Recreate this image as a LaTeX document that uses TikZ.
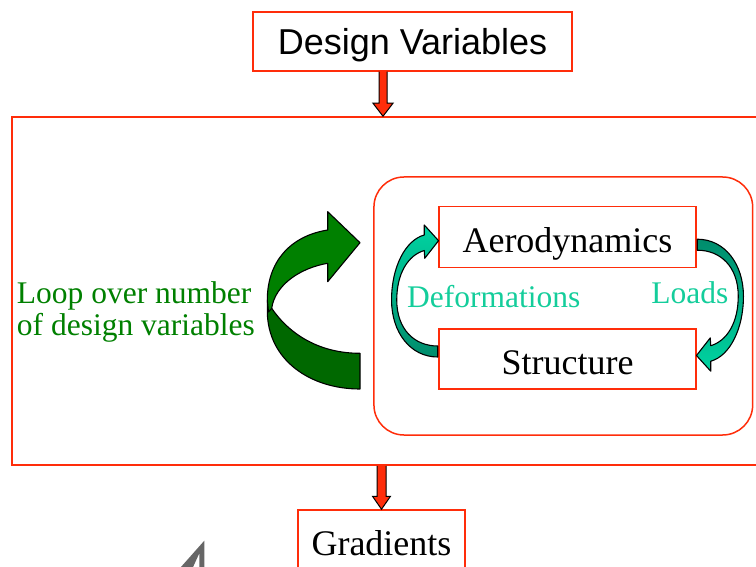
\documentclass[tikz,border=0pt]{standalone}
\usepackage{fontspec}
\setmainfont{Liberation Serif}
\newfontfamily\arialfont{Liberation Sans}
\usetikzlibrary{calc}

\definecolor{boxred}{RGB}{255,45,10}
\definecolor{loopgreen}{RGB}{0,128,0}
\definecolor{loopdark}{RGB}{0,104,0}
\definecolor{tealtext}{RGB}{20,205,155}
\definecolor{teallight}{RGB}{0,212,162}
\definecolor{tealdark}{RGB}{0,140,108}
\definecolor{markgray}{RGB}{102,102,102}

% vertical block arrow: fill, then outline without the top edge
\newcommand\blockdown[4]{% start, end, shaft half width, head half width
  \fill[boxred] ($(#1)+(-#3,0)$) -- ($(#2)+(-#3,-13)$) -- ($(#2)+(-#4,-13)$) -- (#2)
     -- ($(#2)+(#4,-13)$) -- ($(#2)+(#3,-13)$) -- ($(#1)+(#3,0)$) -- cycle;
  \draw[black, line width=1pt, line join=miter] ($(#1)+(-#3,0)$) -- ($(#2)+(-#3,-13)$)
     -- ($(#2)+(-#4,-13)$) -- (#2) -- ($(#2)+(#4,-13)$) -- ($(#2)+(#3,-13)$) -- ($(#1)+(#3,0)$);
}

\begin{document}
\begin{tikzpicture}[x=1pt,y=-1pt,
  redbox/.style={draw=boxred, line width=1.5pt, rectangle, inner sep=0pt},
  bigfont/.style={font=\fontsize{36}{40}\selectfont},
  midfont/.style={font=\fontsize{31.5}{31.7}\selectfont},
  outline/.style={draw=black, line width=1.1pt, line join=round}]
\useasboundingbox (0,0) rectangle (756,567);
\clip (0,0) rectangle (756,567);

% boxes
\node[redbox, minimum width=319pt, minimum height=59pt,
      font=\arialfont\fontsize{36}{40}\selectfont, text height=27pt, text depth=0pt]
      (dv) at (412.5,41.5) {Design Variables};
\node[redbox, minimum width=768pt, minimum height=348pt] (loop) at (396,291) {};
\node[draw=boxred, line width=1.5pt, rounded corners=30pt, inner sep=0pt,
      minimum width=378.7pt, minimum height=258pt] (cpl) at (563.3,306) {};
\node[redbox, minimum width=257pt, minimum height=61pt, bigfont,
      text height=31.6pt, text depth=0pt] (aero) at (567.5,237.2) {Aerodynamics};
\node[redbox, minimum width=257pt, minimum height=60pt, bigfont,
      text height=30pt, text depth=0pt] (str) at (567.5,359) {Structure};
\node[redbox, minimum width=167pt, minimum height=90pt, bigfont,
      text height=12pt, text depth=12pt] (grad) at (381.5,555) {Gradients};

% labels (base anchor of the two-line node is its last line)
\node[midfont, text=loopgreen, align=left, anchor=base west, inner sep=0pt]
      (looptext) at (16.7,335) {Loop over number\\of design variables};
\node[midfont, text=tealtext, anchor=base, inner sep=0pt] (deftext) at (493.7,308) {Deformations};
\node[midfont, text=tealtext, anchor=base, inner sep=0pt] (loadtext) at (689.8,303) {Loads};

% block arrows into and out of the loop
\coordinate (a1) at ([xshift=-29.5pt]dv.south);
\coordinate (a2) at (a1 |- loop.north);
\blockdown{a1}{a2}{4}{10}
\coordinate (b1) at (grad.north |- loop.south);
\coordinate (b2) at (grad.north);
\blockdown{b1}{b2}{4.5}{9}

% curved arrow: Structure -> Aerodynamics
\begin{scope}[shift={(aero.west)}]
\shadedraw[outline, top color=teallight, bottom color=tealdark]
  (-14,-2.2) .. controls (-33,3) and (-46.7,30) .. (-46.7,62.8)
  .. controls (-46.7,95) and (-28,119.8) .. (-0.5,119.8) -- (-0.5,108.8)
  .. controls (-24,108.8) and (-41.5,92) .. (-41.5,62.8)
  .. controls (-41.5,36) and (-30,18) .. (-14,13.3)
  -- (-13.5,21.1) -- (0.3,3.5) -- (-14,-12.2) -- cycle;
\end{scope}

% curved arrow: Aerodynamics -> Structure
\begin{scope}[shift={(str.east)}, xscale=-1, yscale=-1]
\shadedraw[outline, top color=tealdark, bottom color=teallight]
  (-14,-2.2) .. controls (-33,3) and (-46.7,30) .. (-46.7,62.8)
  .. controls (-46.7,95) and (-28,119.8) .. (-0.5,119.8) -- (-0.5,108.8)
  .. controls (-24,108.8) and (-41.5,92) .. (-41.5,62.8)
  .. controls (-41.5,36) and (-30,18) .. (-14,13.3)
  -- (-13.5,21.1) -- (0.3,3.5) -- (-14,-12.2) -- cycle;
\end{scope}

% loop arrow: back band, then front band with the head
\filldraw[outline, fill=loopdark]
  (267.3,300) -- (267.3,312) .. controls (268,360) and (310,389) .. (360,389)
  -- (360,353.3) .. controls (320,353.3) and (290,335) .. (271.7,308.3) -- cycle;
\filldraw[outline, fill=loopgreen]
  (327.7,230) .. controls (290,236) and (267.3,262) .. (267.3,300)
  -- (268.5,312) -- (271.7,308.3)
  .. controls (275,285) and (300,268) .. (327.7,263.3)
  -- (327.7,281.7) -- (360,242.7) -- (327.7,211.7) -- cycle;

% gray mark at the lower edge
\fill[markgray] (178.3,570) -- (204.3,540.7) -- (204.3,570) -- (199.3,570)
  -- (199.3,553.3) -- (191.7,570) -- cycle;
\end{tikzpicture}
\end{document}
